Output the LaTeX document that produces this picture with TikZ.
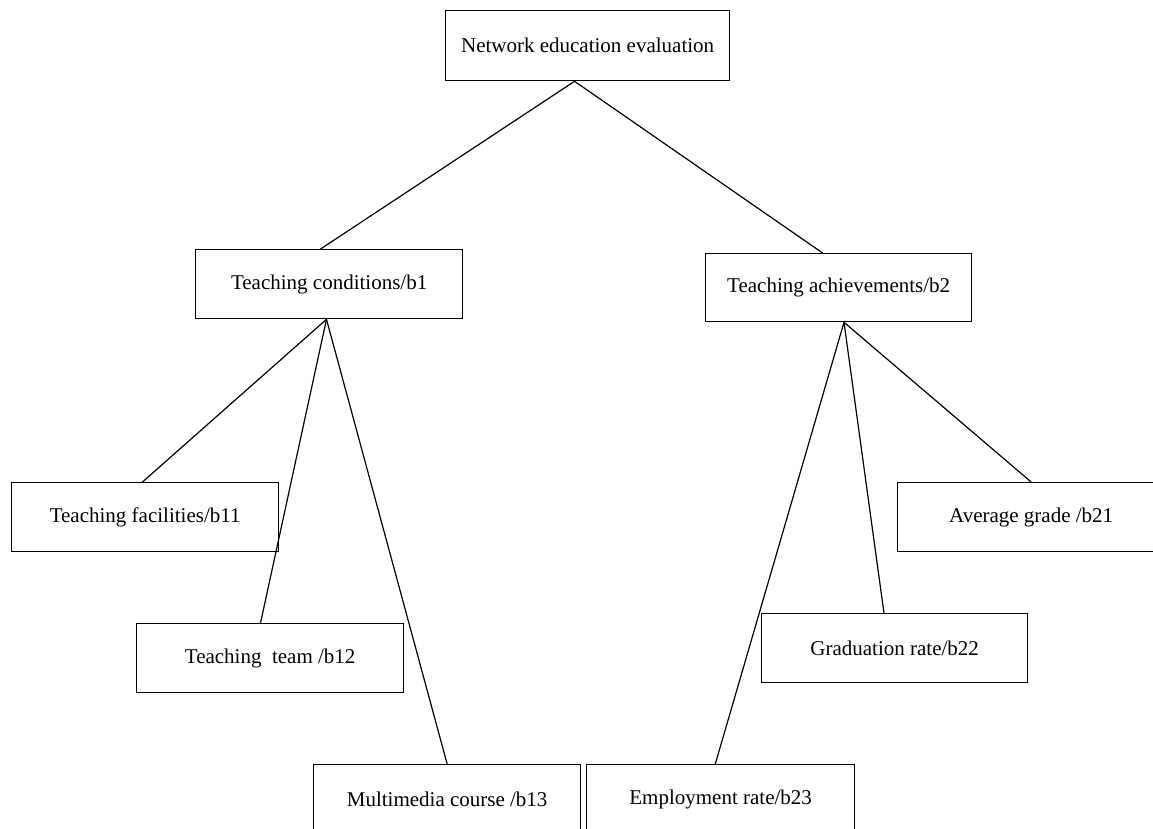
\documentclass[tikz,border=0pt]{standalone}
\usepackage{fontspec}
\setmainfont{Liberation Serif}
\usetikzlibrary{calc}
\begin{document}
\begin{tikzpicture}[x=1pt,y=-1pt,
  box/.style={draw=black,line width=1.3pt,fill=white,anchor=north west,
    minimum width=267pt,minimum height=69pt,inner sep=0pt,
    font=\fontsize{21pt}{25pt}\selectfont},
  link/.style={draw=black,line width=1.2pt}]
\useasboundingbox (0,0) rectangle (1153,828);
\clip (0,0) rectangle (1153,828);
\node[box,minimum width=284pt,minimum height=70pt] (root) at (445,10) {Network education evaluation};
\node[box] (b1) at (195,249) {Teaching conditions/b1};
\node[box,minimum width=266pt,minimum height=68pt] (b2) at (705,253) {Teaching achievements/b2};
\node[box] (b11) at (11,482) {Teaching facilities/b11};
\node[box] (b12) at (136,623) {Teaching\ \ team /b12};
\node[box] (b13) at (313,764) {Multimedia course /b13};
\node[box] (b21) at (897,482) {Average grade /b21};
\node[box,minimum width=266pt] (b22) at (761,613) {Graduation rate/b22};
\node[box,minimum width=268pt] (b23) at (586,764) {Employment rate/b23};
\coordinate (rs) at ($(root.south west)!0.454!(root.south east)$);
\coordinate (b1s) at ($(b1.south west)!0.49!(b1.south east)$);
\coordinate (b2s) at ($(b2.south west)!0.52!(b2.south east)$);
\draw[link] (rs) -- ($(b1.north west)!0.468!(b1.north east)$);
\draw[link] (rs) -- ($(b2.north west)!0.44!(b2.north east)$);
\draw[link] (b1s) -- ($(b11.north west)!0.49!(b11.north east)$);
\draw[link] (b1s) -- ($(b12.north west)!0.464!(b12.north east)$);
\draw[link] (b1s) -- ($(b13.north west)!0.5!(b13.north east)$);
\draw[link] (b2s) -- ($(b21.north west)!0.5!(b21.north east)$);
\draw[link] (b2s) -- ($(b22.north west)!0.46!(b22.north east)$);
\draw[link] (b2s) -- ($(b23.north west)!0.48!(b23.north east)$);
\end{tikzpicture}
\end{document}
